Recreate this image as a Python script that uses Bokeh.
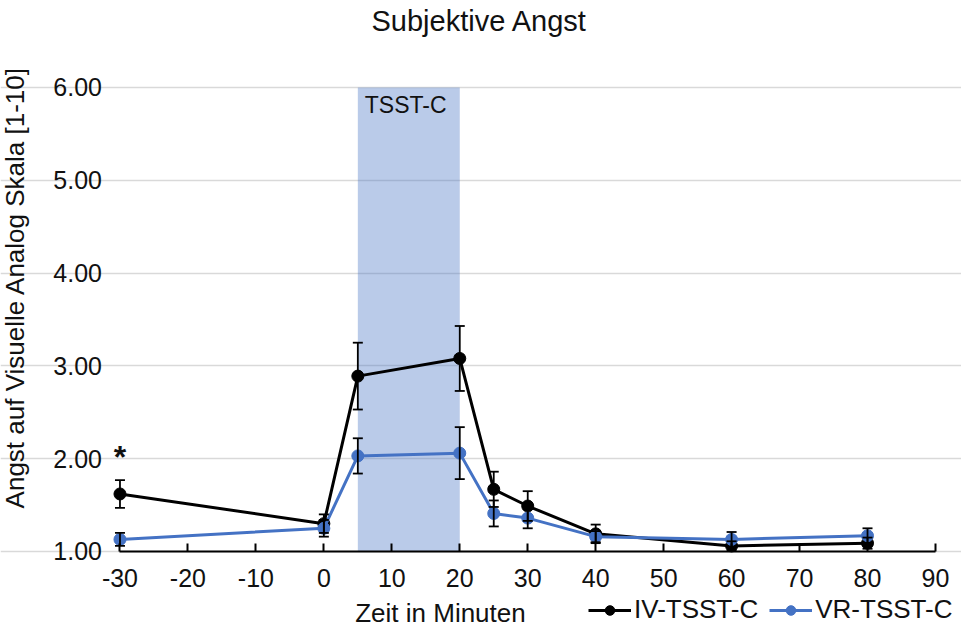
import math
from bokeh.plotting import figure
from bokeh.models import (Range1d, FixedTicker, BoxAnnotation, Whisker, ColumnDataSource,
                          Label, Legend, LegendItem, TeeHead)
from bokeh.embed import file_html
from bokeh.resources import INLINE

# ---- data ----
minutes = [-30, 0, 5, 20, 25, 30, 40, 60, 80]
iv_mean = [1.62, 1.30, 2.89, 3.08, 1.67, 1.49, 1.19, 1.06, 1.09]
iv_err = [0.15, 0.10, 0.36, 0.35, 0.19, 0.16, 0.10, 0.05, 0.06]
vr_mean = [1.13, 1.25, 2.03, 2.06, 1.41, 1.36, 1.16, 1.13, 1.17]
vr_err = [0.07, 0.09, 0.19, 0.28, 0.14, 0.11, 0.06, 0.08, 0.08]

series_names = ["IV-TSST-C", "VR-TSST-C"]
x_ticks = [-30, -20, -10, 0, 10, 20, 30, 40, 50, 60, 70, 80, 90]
x_tick_labels = ["-30", "-20", "-10", "0", "10", "20", "30", "40", "50", "60", "70", "80", "90"]
y_ticks = [1, 2, 3, 4, 5, 6]
y_tick_labels = ["1.00", "2.00", "3.00", "4.00", "5.00", "6.00"]
tsst_start, tsst_end = 5, 20
tsst_label = "TSST-C"
title_text = "Subjektive Angst"
x_title = "Zeit in Minuten"
y_title = "Angst auf Visuelle Analog Skala [1-10]"

FONT = "Liberation Sans"
TXT = "#111111"
BLUE = "#4472C4"

src = ColumnDataSource(dict(
    x=minutes,
    iv=iv_mean, iv_lo=[m - e for m, e in zip(iv_mean, iv_err)], iv_hi=[m + e for m, e in zip(iv_mean, iv_err)],
    vr=vr_mean, vr_lo=[m - e for m, e in zip(vr_mean, vr_err)], vr_hi=[m + e for m, e in zip(vr_mean, vr_err)],
))

# the frame covers the whole canvas; axes are pinned inside it
p = figure(width=961, height=627, x_range=Range1d(-47.58, 93.83), y_range=Range1d(0.181, 6.9375),
           output_backend="svg", toolbar_location=None, title=None,
           min_border_left=0, min_border_right=0, min_border_top=0, min_border_bottom=0)
p.outline_line_color = None
p.background_fill_color = "white"
p.border_fill_color = "white"

# axes
p.xaxis.fixed_location = y_ticks[0]
p.xaxis.ticker = FixedTicker(ticks=x_ticks)
p.xaxis.major_label_overrides = {t: s for t, s in zip(x_ticks, x_tick_labels)}
p.xaxis.bounds = (x_ticks[0], x_ticks[-1])
p.xaxis.axis_line_color = "black"
p.xaxis.axis_line_width = 2
p.xaxis.major_tick_in = 8
p.xaxis.major_tick_out = 0
p.xaxis.major_tick_line_color = "black"
p.xaxis.major_tick_line_width = 2
p.xaxis.minor_tick_line_color = None
p.xaxis.major_label_text_font = FONT
p.xaxis.major_label_text_font_size = "25px"
p.xaxis.major_label_text_color = TXT
p.xaxis.major_label_standoff = 18

p.yaxis.fixed_location = x_ticks[0]
p.yaxis.ticker = FixedTicker(ticks=y_ticks)
p.yaxis.bounds = (y_ticks[0], y_ticks[-1])
p.yaxis.major_label_overrides = {t: s for t, s in zip(y_ticks, y_tick_labels)}
p.yaxis.axis_line_color = None
p.yaxis.major_tick_line_color = None
p.yaxis.minor_tick_line_color = None
p.yaxis.major_label_text_font = FONT
p.yaxis.major_label_text_font_size = "25px"
p.yaxis.major_label_text_color = TXT
p.yaxis.major_label_standoff = 12

p.xgrid.visible = False
p.ygrid.grid_line_color = "#D9D9D9"
p.ygrid.grid_line_width = 1.5
p.ygrid.bounds = (x_ticks[0], x_ticks[-1])

# TSST-C phase
p.add_layout(BoxAnnotation(left=tsst_start, right=tsst_end, bottom=y_ticks[0], top=y_ticks[-1],
                           fill_color=BLUE, fill_alpha=0.37, line_color=None, level="underlay"))
p.add_layout(Label(x=tsst_start, y=5.81, x_offset=7, text=tsst_label, text_align="left",
                   text_baseline="middle", text_font=FONT, text_font_size="23px", text_color=TXT))

# series
iv_line = p.line("x", "iv", source=src, line_color="black", line_width=3)
iv_dot = p.scatter("x", "iv", source=src, size=12, fill_color="black", line_color="black")
vr_line = p.line("x", "vr", source=src, line_color=BLUE, line_width=3)
vr_dot = p.scatter("x", "vr", source=src, size=12, fill_color=BLUE, line_color=BLUE)

for lo, hi in (("iv_lo", "iv_hi"), ("vr_lo", "vr_hi")):
    p.add_layout(Whisker(base="x", lower=lo, upper=hi, source=src, level="annotation",
                         line_color="black", line_width=1.8,
                         upper_head=TeeHead(size=10, line_color="black", line_width=1.8),
                         lower_head=TeeHead(size=10, line_color="black", line_width=1.8)))

# significance marker
p.add_layout(Label(x=minutes[0], y=2.02, text="*", text_align="center", text_baseline="alphabetic",
                   text_font=FONT, text_font_size="32px", text_font_style="bold", text_color=TXT))

# titles
p.add_layout(Label(x=22.9, y=6.72, text=title_text, text_align="center", text_baseline="middle",
                   text_font=FONT, text_font_size="29px", text_color=TXT))
p.add_layout(Label(x=17.16, y=0.332, text=x_title, text_align="center", text_baseline="middle",
                   text_font=FONT, text_font_size="26px", text_color=TXT))
p.add_layout(Label(x=-45.4, y=3.845, text=y_title, angle=math.pi / 2, text_align="center",
                   text_baseline="middle", text_font=FONT, text_font_size="26px", text_color=TXT))

legend = Legend(items=[LegendItem(label=series_names[0], renderers=[iv_line, iv_dot]),
                       LegendItem(label=series_names[1], renderers=[vr_line, vr_dot])],
                location=(588, 2), orientation="horizontal",
                border_line_color=None, background_fill_alpha=0, padding=0, margin=0,
                spacing=11, label_standoff=3, glyph_width=43, glyph_height=24, label_height=24,
                label_text_font=FONT, label_text_font_size="26px", label_text_color=TXT)
p.add_layout(legend)

open("out.html", "w").write(file_html(p, INLINE))
